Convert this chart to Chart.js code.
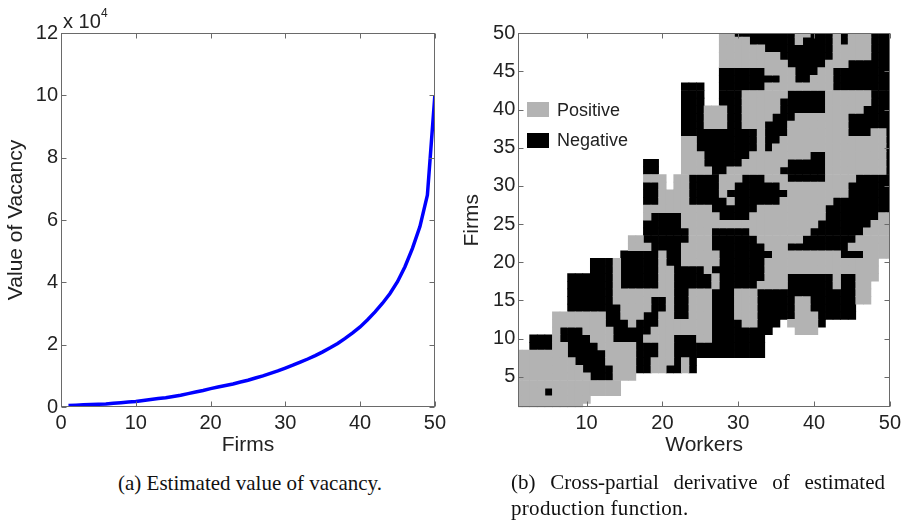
<!DOCTYPE html>
<html><head><meta charset="utf-8">
<script src="https://cdn.jsdelivr.net/npm/chart.js@4.4.0/dist/chart.umd.min.js"></script>
<style>
html,body{margin:0;padding:0;background:#fff;}
body{width:905px;height:521px;position:relative;overflow:hidden;font-family:"Liberation Sans",Arial,sans-serif;color:#222;}
.abs{position:absolute;white-space:nowrap;}
#c1wrap{position:absolute;left:0;top:0;width:450px;height:460px;}
#c2wrap{position:absolute;left:440px;top:0;width:465px;height:460px;}
.cap{position:absolute;font-family:"Liberation Serif","Times New Roman",serif;font-size:21px;line-height:24px;color:#111;white-space:nowrap;}
</style></head><body>
<div id="c1wrap"><canvas id="c1" width="450" height="460"></canvas></div>
<div id="c2wrap"><canvas id="c2" width="465" height="460"></canvas></div>
<div class="abs" style="left:63px;top:11px;font-size:20px;line-height:20px;">x 10</div>
<div class="abs" style="left:101px;top:6px;font-size:12px;line-height:14px;">4</div>
<div class="abs" style="left:527px;top:102px;width:22px;height:15px;background:#b3b3b3"></div>
<div class="abs" style="left:557px;top:100px;font-size:18px;line-height:20px;">Positive</div>
<div class="abs" style="left:527px;top:133px;width:22px;height:15px;background:#000"></div>
<div class="abs" style="left:557px;top:130px;font-size:18px;line-height:20px;">Negative</div>
<div class="cap" style="left:118px;top:471px;">(a) Estimated value of vacancy.</div>
<div class="cap" style="left:511px;top:470px;width:374px;white-space:normal;text-align:justify;text-align-last:justify;">(b) Cross-partial derivative of estimated</div>
<div class="cap" style="left:511px;top:496px;letter-spacing:0.3px;">production function.</div>
<script>
// ---- Left panel data ----
const firms = [1,2,3,4,5,6,7,8,9,10,11,12,13,14,15,16,17,18,19,20,21,22,23,24,25,26,27,28,29,30,31,32,33,34,35,36,37,38,39,40,41,42,43,44,45,46,47,48,49,50];
const vacancyValue = [500,600,700,800,900,1000,1200,1400,1600,1800,2100,2400,2700,3000,3400,3800,4300,4800,5300,5900,6400,6900,7400,8000,8600,9300,10000,10800,11600,12500,13400,14400,15400,16500,17700,19000,20400,22000,23800,25700,28000,30500,33300,36400,40200,45000,50900,57900,68000,100000];
const leftXTicks = [0,10,20,30,40,50];
const leftYTicks = [0,20000,40000,60000,80000,100000,120000];

// ---- Right panel data ----
const workersTicks = [10,20,30,40,50];
const firmsTicks = [5,10,15,20,25,30,35,40,45,50];
// sign of cross-partial per cell, rows firm 50 (top) .. firm 1, workers 1..50
// run-length: '.' = no data, 'g' = positive, 'b' = negative
const signRows = [
"27.2g8b2g3b1g1b3g3b",
"27.4g6b1g4b1g1b3g3b",
"27.6g9b5g3b",
"27.8g7b5g3b",
"27.9g5b3g6b",
"27.6b4g3b2g8b",
"27.8b2g2b3g8b",
"22.3b2.6b9g8b",
"22.3b2.3b6g5b6g3b",
"22.3b2.3b5g6b6g3b",
"22.3b3g2b5g6b5g4b",
"22.3b3g2b4g3b7g6b",
"22.3b3g2b3g3b8g6b",
"22.10b1g3b8g3b2g1b",
"22.2g8b1g2b14g1b",
"22.2g8b1g1b15g1b",
"22.3g6b8g2b8g1b",
"17.2b3.3g5b6g5b8g1b",
"17.2b3.4g2b7g6b8g1b",
"17.3g1.2g4b3g3b3g5b4g5b",
"17.2b1g1.2g4b2g6b9g6b",
"17.2b4g4b1g8b8g6b",
"17.2b4g5b1g6b7g8b",
"17.9g6b9g9b",
"17.1g4b5g4b10g7b2g",
"17.5b18g7b3g",
"17.6b3g5b8g7b4g",
"15.2g6b3g6b6g7b5g",
"15.3g4b4g7b3g8b6g",
"14.5b1g2b5g7b9g3b4g",
"10.3b1g5b1g2b5g6b15g2.",
"10.3b1g5b2g4b1g7b15g2.",
"7.6b1g5b2g5b1g6b3g6b1g2b3g2.",
"7.6b1g5b2g5b1g5b4g6b1g2b2g3.",
"7.6b8g2b3g3b3g13b2g3.",
"7.6b5g2b1g2b3g3b3g5b2g6b2g3.",
"7.7b4g2b1g2b3g3b3g5b2g6b5.",
"5.7g2b3g2b2g2b3g3b3g5b3g5b5.",
"5.7g3b1g3b7g4b2g3b1.4g1b9.",
"5.1g3b4g5b8g8b3.3g10.",
"2.3b1g4b3g4b4g3b2g7b17.",
"2.3b2g4b5g3b2g12b17.",
"7g5b4g3b2g12b17.",
"8g4b4g2b3g1b1g1b26.",
"9g4b3g2b2g2b1g1b26.",
"10g3b3g34.",
"14g36.",
"4g1b9g36.",
"10g40.",
"9g41."
];

const positiveCells = [], negativeCells = [];
signRows.forEach((row, r) => {
  const firm = 50 - r;
  let w = 1;
  row.replace(/(\d+)([.gb])/g, (m, n, c) => {
    for (let k = 0; k < +n; k++, w++) {
      if (w > 50) break;
      if (c === 'g') positiveCells.push({x: w, y: firm});
      else if (c === 'b') negativeCells.push({x: w, y: firm});
    }
    return m;
  });
});

const FONT = "'Liberation Sans', Arial, sans-serif";
const TXT = '#222';

const boxTicks = {
  id: 'boxTicks',
  afterDatasetsDraw(chart, args, opts) {
    const {ctx, chartArea: a, scales: {x, y}} = chart;
    ctx.save();
    ctx.strokeStyle = '#6a6a6a';
    ctx.lineWidth = 1;
    const L = Math.round(a.left) + 0.5, R = Math.round(a.right) - 0.5;
    const T = Math.round(a.top) + 0.5, B = Math.round(a.bottom) - 0.5;
    ctx.beginPath();
    opts.xt.forEach(v => {
      const p = Math.round(x.getPixelForValue(v)) + 0.5;
      ctx.moveTo(p, B); ctx.lineTo(p, B - 5);
      ctx.moveTo(p, T); ctx.lineTo(p, T + 5);
    });
    opts.yt.forEach(v => {
      const p = Math.round(y.getPixelForValue(v)) + 0.5;
      ctx.moveTo(L, p); ctx.lineTo(L + 5, p);
      ctx.moveTo(R, p); ctx.lineTo(R - 5, p);
    });
    ctx.stroke();
    ctx.strokeRect(L, T, R - L, B - T);
    ctx.restore();
  }
};

function axis(min, max, ticksArr, fitKey, fitVal, title, titlePad, cb) {
  return {
    type: 'linear', min, max,
    afterBuildTicks: s => { s.ticks = ticksArr.map(v => ({value: v})); },
    afterFit: s => { s[fitKey] = fitVal; },
    grid: {display: false, drawTicks: false},
    border: {display: false},
    ticks: {font: {size: 20, family: FONT}, color: TXT, padding: fitKey === 'width' ? 3 : 4, maxRotation: 0, autoSkip: false, callback: cb || (v => String(v))},
    title: {display: true, text: title, font: {size: 21, family: FONT}, color: TXT, padding: titlePad}
  };
}

new Chart(document.getElementById('c1'), {
  type: 'line',
  data: {datasets: [{
    data: firms.map((f, i) => ({x: f, y: vacancyValue[i]})),
    borderColor: '#0000ff', borderWidth: 3.5, pointRadius: 0, tension: 0, fill: false
  }]},
  options: {
    responsive: false, animation: false, events: [],
    layout: {padding: {left: 0, top: 33, right: 14, bottom: 0}},
    plugins: {legend: {display: false}, tooltip: {enabled: false}, boxTicks: {xt: leftXTicks, yt: leftYTicks}},
    scales: {
      x: axis(0, 50, leftXTicks, 'height', 53, 'Firms', {top: 0, bottom: 2}),
      y: axis(0, 120000, leftYTicks, 'width', 61, 'Value of Vacancy', {top: 4, bottom: 0}, v => String(v / 10000))
    }
  },
  plugins: [boxTicks]
});

const cellRadius = ctx => {
  const s = ctx.chart.scales.x;
  return (Math.abs(s.getPixelForValue(2) - s.getPixelForValue(1)) + 0.7) / Math.SQRT2;
};

new Chart(document.getElementById('c2'), {
  type: 'scatter',
  data: {datasets: [
    {label: 'Positive', data: positiveCells, pointStyle: 'rect', backgroundColor: '#b3b3b3', borderWidth: 0, pointBorderWidth: 0, pointRadius: cellRadius, clip: 0},
    {label: 'Negative', data: negativeCells, pointStyle: 'rect', backgroundColor: '#000000', borderWidth: 0, pointBorderWidth: 0, pointRadius: cellRadius, clip: 0}
  ]},
  options: {
    responsive: false, animation: false, events: [],
    layout: {padding: {left: 0, top: 33.3, right: 12.8, bottom: 0}},
    plugins: {legend: {display: false}, tooltip: {enabled: false}, boxTicks: {xt: workersTicks, yt: firmsTicks}},
    scales: {
      x: axis(1, 50, workersTicks, 'height', 52.8, 'Workers', {top: 0, bottom: 2}),
      y: axis(1, 50, firmsTicks, 'width', 78.3, 'Firms', {top: 20, bottom: 0})
    }
  },
  plugins: [boxTicks]
});
</script>
</body></html>
